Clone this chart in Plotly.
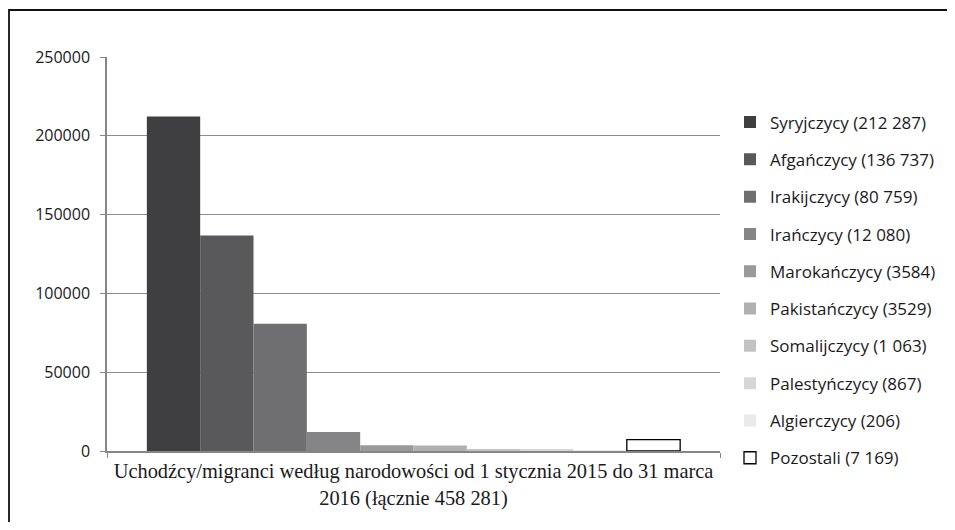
import plotly.graph_objects as go

category = ["Uchodźcy/migranci według narodowości od 1 stycznia 2015 do 31 marca<br>2016 (łącznie 458 281)"]
series_names = ["Syryjczycy (212 287)", "Afgańczycy (136 737)", "Irakijczycy (80 759)",
                "Irańczycy (12 080)", "Marokańczycy (3584)", "Pakistańczycy (3529)",
                "Somalijczycy (1 063)", "Palestyńczycy (867)", "Algierczycy (206)",
                "Pozostali (7 169)"]
series_values = [212287, 136737, 80759, 12080, 3584, 3529, 1063, 867, 206, 7169]
colors = ["#3f3f41", "#59595b", "#6f6f71", "#858587", "#9a9a9c", "#b0b0b2",
          "#c3c3c5", "#d7d7d9", "#eaeaeb", "#ffffff"]
y_ticks = [0, 50000, 100000, 150000, 200000, 250000]

fig = go.Figure()
for name, val, col in zip(series_names, series_values, colors):
    fig.add_trace(go.Bar(
        x=category, y=[val], name=name, legendgroup=name,
        marker=dict(color=col,
                    line=dict(color="#000000" if col == "#ffffff" else col,
                              width=1.3 if col == "#ffffff" else 0)),
    ))

# page body has an 8px default margin: work in window pixels and shift
OFF = 8
W, H = 955 - OFF, 530 - 2 * OFF
L, T = 107 - OFF, 57 - OFF
pw, ph = 720 - 107, 451 - 57
R = W - L - pw
B = H - T - ph

def px(x):
    return (x - OFF - L) / pw

def py(y):
    return 1 - (y - OFF - T) / ph

fig.update_layout(
    width=W, height=H,
    margin=dict(l=L, r=R, t=T, b=B, pad=0),
    paper_bgcolor="white", plot_bgcolor="white",
    barmode="group", bargap=0.13, bargroupgap=0,
    showlegend=True,
    legend=dict(x=px(730), xanchor="left", y=py(104.5), yanchor="top",
                font=dict(family="Open Sans", size=17, color="#1a1a1a"),
                tracegroupgap=12.2, bgcolor="rgba(0,0,0,0)"),
    font=dict(family="Open Sans", color="#1a1a1a"),
    xaxis=dict(type="category", showgrid=False, showline=True, linecolor="#868686",
               linewidth=1.5, ticks="outside", tickson="boundaries", ticklen=5,
               tickcolor="#868686", ticklabelstandoff=1, tickangle=0, automargin=False,
               tickfont=dict(family="Liberation Serif", size=20.4, color="#1a1a1a")),
    yaxis=dict(range=[0, 250000], tickvals=y_ticks, ticktext=[str(v) for v in y_ticks],
               showgrid=True, gridcolor="#8c8c8c", gridwidth=1.3,
               showline=True, linecolor="#868686", linewidth=1.5,
               ticks="outside", ticklen=5, tickcolor="#868686",
               zeroline=False, ticklabelstandoff=7,
               tickfont=dict(family="Open Sans", size=16, color="#1a1a1a")),
    shapes=[
        dict(type="rect", xref="paper", yref="paper", x0=px(9), x1=px(1100),
             y0=py(10), y1=py(700), fillcolor="rgba(0,0,0,0)",
             line=dict(color="#111111", width=1.8), layer="below"),
    ],
)

fig.write_html("out.html")
